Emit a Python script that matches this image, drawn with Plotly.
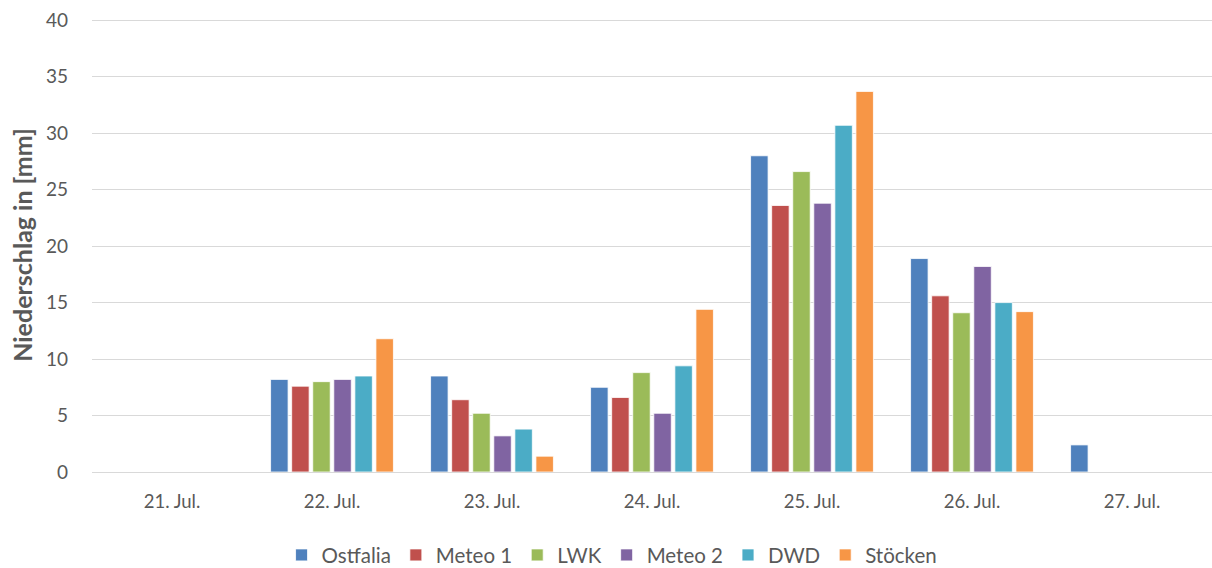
import plotly.graph_objects as go

categories = ["21. Jul.", "22. Jul.", "23. Jul.", "24. Jul.", "25. Jul.", "26. Jul.", "27. Jul."]
ostfalia = [0, 8.2, 8.5, 7.5, 28.0, 18.9, 2.4]
meteo1 = [0, 7.6, 6.4, 6.6, 23.6, 15.6, 0]
lwk = [0, 8.0, 5.2, 8.8, 26.6, 14.1, 0]
meteo2 = [0, 8.2, 3.2, 5.2, 23.8, 18.2, 0]
dwd = [0, 8.5, 3.8, 9.4, 30.7, 15.0, 0]
stoecken = [0, 11.8, 1.4, 14.4, 33.7, 14.2, 0]

series = [
    ("Ostfalia", ostfalia, "#4F81BD"),
    ("Meteo 1", meteo1, "#C0504D"),
    ("LWK", lwk, "#9BBB59"),
    ("Meteo 2", meteo2, "#8064A2"),
    ("DWD", dwd, "#4BACC6"),
    ("Stöcken", stoecken, "#F79646"),
]

fig = go.Figure()
for name, vals, col in series:
    fig.add_trace(go.Bar(
        x=categories, y=vals, name=name,
        marker=dict(color=col, line=dict(color="white", width=0.8)),
    ))

font = "Lato, 'Open Sans', sans-serif"
fig.update_layout(
    width=1212, height=568,
    margin=dict(l=92, r=0, t=18, b=96, autoexpand=False),
    paper_bgcolor="white", plot_bgcolor="white",
    barmode="group", bargap=0.21, bargroupgap=0.17,
    font=dict(family=font, size=18, color="#595959"),
    showlegend=True,
    legend=dict(orientation="h", xref="container", x=0.505, xanchor="center",
                y=-0.183, yanchor="middle",
                font=dict(size=20.5, color="#595959"), itemwidth=30, traceorder="normal"),
    xaxis=dict(showgrid=False, showline=False, ticks="", automargin=False,
               ticklabelstandoff=16, tickfont=dict(size=18.5, color="#595959")),
    yaxis=dict(range=[0, 40.2], tickvals=[0, 5, 10, 15, 20, 25, 30, 35, 40],
               showgrid=True, gridcolor="#D9D9D9", gridwidth=1,
               zeroline=True, zerolinecolor="#D9D9D9", zerolinewidth=1, showline=False,
               ticks="", automargin=False, ticklabelstandoff=23,
               tickfont=dict(size=19, color="#595959"),
               title=dict(text="<b>Niederschlag in [mm]</b>", font=dict(size=25, color="#595959"), standoff=6)),
)

fig.write_html("out.html", config={"displayModeBar": False},
               post_script="document.body.style.margin='0px';document.body.style.overflow='hidden';")
